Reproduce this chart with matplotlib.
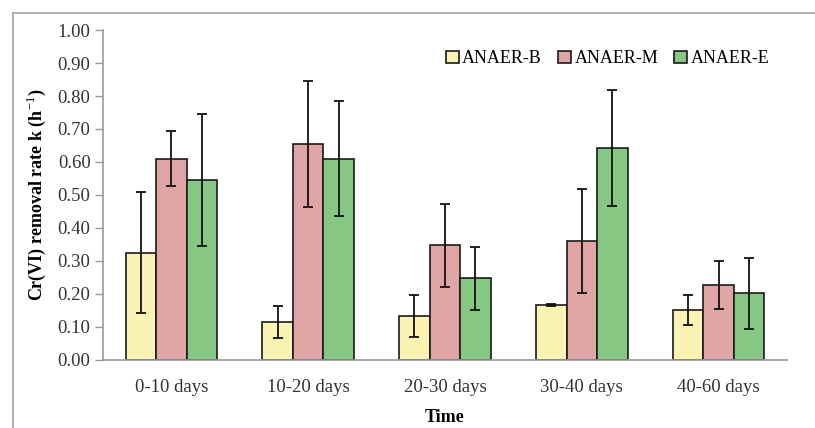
import matplotlib
matplotlib.use("Agg")
import matplotlib.pyplot as plt
import numpy as np
from matplotlib.lines import Line2D

plt.rcParams['font.family'] = ['Liberation Serif', 'DejaVu Serif']
plt.rcParams['mathtext.fontset'] = 'custom'
plt.rcParams['mathtext.rm'] = 'Liberation Serif'

# data
periods = ["0-10 days", "10-20 days", "20-30 days", "30-40 days", "40-60 days"]
series = ["ANAER-B", "ANAER-M", "ANAER-E"]
anaer_b = [0.325, 0.115, 0.133, 0.167, 0.152]
anaer_m = [0.610, 0.655, 0.348, 0.360, 0.227]
anaer_e = [0.545, 0.610, 0.248, 0.643, 0.202]
err_b = [0.184, 0.048, 0.063, 0.004, 0.046]
err_m = [0.083, 0.190, 0.126, 0.157, 0.072]
err_e = [0.199, 0.175, 0.095, 0.176, 0.108]
yticks = [0.0, 0.1, 0.2, 0.3, 0.4, 0.5, 0.6, 0.7, 0.8, 0.9, 1.0]

colors = ['#FAF3B4', '#E0A6A6', '#86C784']

fig = plt.figure(figsize=(8.15, 4.28), dpi=100)
ax = fig.add_axes([0.1264, 0.1589, 0.8392, 0.771])

x = np.arange(len(periods))
w = 0.223
for i, (vals, errs) in enumerate(zip([anaer_b, anaer_m, anaer_e], [err_b, err_m, err_e])):
    ax.bar(x + (i - 1) * w, vals, w, color=colors[i], edgecolor='#1a1a1a',
           linewidth=1.2, label=series[i], zorder=2)
    ax.errorbar(x + (i - 1) * w, vals, yerr=errs, fmt='none', ecolor='#111111',
                elinewidth=1.3, capsize=3.5, capthick=1.3, zorder=3)

ax.set_xlim(-0.5, len(periods) - 0.5)
ax.set_ylim(0, 1.0)
ax.set_yticks(yticks)
ax.set_yticklabels([f"{t:.2f}" for t in yticks], fontsize=13.5, color='#333333')
ax.set_xticks(x)
ax.set_xticklabels(periods, fontsize=13.5, color='#333333')
ax.tick_params(axis='x', length=0, pad=14)
ax.tick_params(axis='y', length=6, color='#999999', width=1, pad=3)
for s in ['top', 'right']:
    ax.spines[s].set_visible(False)
for s in ['left', 'bottom']:
    ax.spines[s].set_color('#999999')
    ax.spines[s].set_linewidth(1.2)

ax.set_ylabel(r"Cr(VI) removal rate k (h$^{-1}$)", fontsize=13, fontweight='bold', labelpad=7)
ax.set_xlabel("Time", fontsize=13, fontweight='bold', labelpad=9)

ax.legend(loc='upper right', bbox_to_anchor=(0.985, 0.96), ncol=3, frameon=False,
          fontsize=13, handlelength=0.7, handleheight=0.7, handletextpad=0.2,
          columnspacing=0.9, borderaxespad=0)

# light gray frame around the chart
fig.add_artist(Line2D([13 / 815, 1.0], [1 - 13 / 428, 1 - 13 / 428], color='#aaaaaa', lw=1.3))
fig.add_artist(Line2D([13 / 815, 13 / 815], [0, 1 - 13 / 428], color='#aaaaaa', lw=1.3))

fig.savefig("out.png", dpi=100)
